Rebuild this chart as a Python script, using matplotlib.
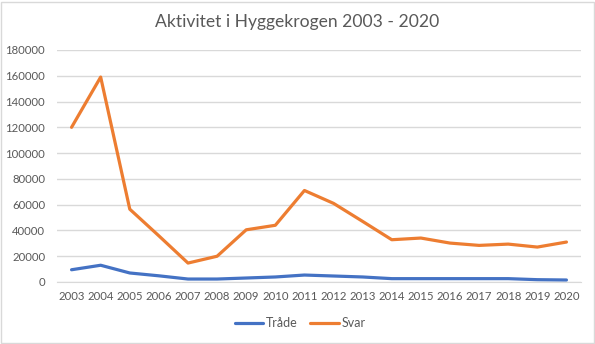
import matplotlib
matplotlib.use("Agg")
import matplotlib.pyplot as plt
from matplotlib.patches import Rectangle

years = ["2003", "2004", "2005", "2006", "2007", "2008", "2009", "2010", "2011",
         "2012", "2013", "2014", "2015", "2016", "2017", "2018", "2019", "2020"]
traade = [9500, 13000, 7000, 4800, 2300, 2300, 3100, 3900, 5400,
          4650, 3900, 2600, 2600, 2600, 2600, 2600, 1800, 1550]
svar = [120000, 159000, 56500, 35800, 14700, 20000, 40500, 44000, 71000,
        61000, 47000, 32800, 34100, 30200, 28400, 29400, 27100, 31000]
yticks = [0, 20000, 40000, 60000, 80000, 100000, 120000, 140000, 160000, 180000]

plt.rcParams['font.family'] = ['Lato', 'DejaVu Sans']

fig = plt.figure(figsize=(5.95, 3.44), dpi=100)
ax = fig.add_axes([57/595, 1-282/344, (581-57)/595, (282-50)/344])

x = list(range(len(years)))
ax.plot(x, traade, color="#4472C4", lw=2.3, label="Tråde", solid_capstyle="round", solid_joinstyle="round")
ax.plot(x, svar, color="#ED7D31", lw=2.3, label="Svar", solid_capstyle="round", solid_joinstyle="round")

ax.set_xlim(-0.5, len(years) - 0.5)
ax.set_ylim(0, 180000)
ax.set_xticks(x)
ax.set_xticklabels(years)
ax.set_yticks(yticks)
ax.set_yticklabels([str(v) for v in yticks])
ax.tick_params(axis="both", length=0, labelsize=8.2, colors="#595959")
ax.tick_params(axis="y", pad=8.5)
ax.tick_params(axis="x", pad=6.5)
ax.grid(axis="y", color="#D9D9D9", lw=1)
ax.set_axisbelow(True)
for s in ["top", "right", "left"]:
    ax.spines[s].set_visible(False)
ax.spines["bottom"].set_color("#D9D9D9")

fig.text(0.5, 1-22/344, "Aktivitet i Hyggekrogen 2003 - 2020", ha="center", va="center",
         fontsize=12.6, color="#595959")

fig.legend(loc="center", bbox_to_anchor=(300/595, 1-323/344), ncol=2, frameon=False,
           fontsize=9, labelcolor="#595959", handlelength=2.3, handletextpad=0.2, columnspacing=1.0)

fig.patches.append(Rectangle((0.5/595, 1.5/344), 593/595, 341/344, transform=fig.transFigure,
                             fill=False, edgecolor="#D9D9D9", lw=1))

fig.savefig("out.png", dpi=100)
